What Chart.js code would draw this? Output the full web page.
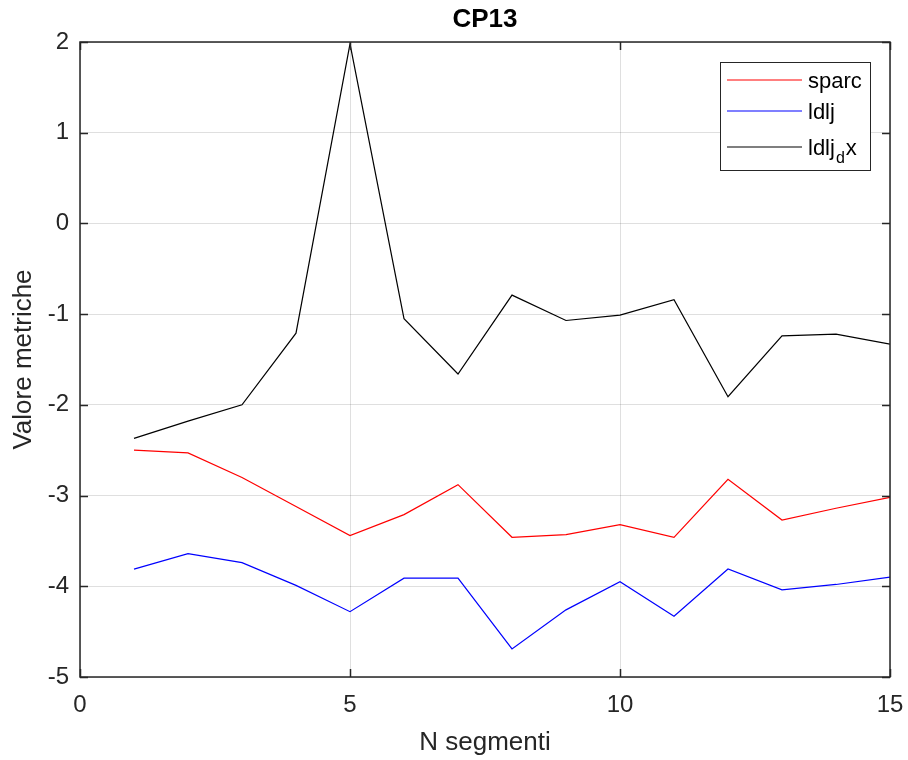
<!DOCTYPE html>
<html>
<head>
<meta charset="utf-8">
<script src="https://cdn.jsdelivr.net/npm/chart.js@4/dist/chart.umd.min.js"></script>
<style>
  html, body { margin: 0; padding: 0; background: #fff; }
  #wrap { width: 908px; height: 760px; }
</style>
</head>
<body>
<div id="wrap"><canvas id="c" width="908" height="760"></canvas></div>
<script>
// Number of segments (x) and the three smoothness metrics
const segments = [1, 2, 3, 4, 5, 6, 7, 8, 9, 10, 11, 12, 13, 14, 15];
const sparc    = [-2.50, -2.53, -2.80, -3.12, -3.44, -3.21, -2.88, -3.46, -3.43, -3.32, -3.46, -2.82, -3.27, -3.14, -3.02];
const ldlj     = [-3.81, -3.64, -3.74, -3.99, -4.28, -3.91, -3.91, -4.69, -4.26, -3.95, -4.33, -3.81, -4.04, -3.98, -3.90];
const ldljDx   = [-2.37, -2.18, -2.00, -1.21, 1.98, -1.05, -1.66, -0.79, -1.07, -1.01, -0.84, -1.91, -1.24, -1.22, -1.33];
const xTicks = [0, 5, 10, 15];
const yTicks = [-5, -4, -3, -2, -1, 0, 1, 2];

const FONT = '"Liberation Sans", Arial, Helvetica, sans-serif';
const AXIS = '#262626';

const toPoints = ys => ys.map((y, i) => ({ x: segments[i], y }));

// Axes box, inward ticks, title and legend in MATLAB style
const framePlugin = {
  id: 'frame',
  afterDatasetsDraw(chart) {
    const { ctx, chartArea: a, scales: { x, y } } = chart;
    ctx.save();
    ctx.strokeStyle = AXIS;
    ctx.lineWidth = 1.5;
    ctx.strokeRect(a.left, a.top, a.right - a.left, a.bottom - a.top);
    const tl = 8;
    ctx.beginPath();
    xTicks.forEach(v => {
      const px = Math.round(x.getPixelForValue(v)) + 0.5;
      ctx.moveTo(px, a.bottom); ctx.lineTo(px, a.bottom - tl);
      ctx.moveTo(px, a.top); ctx.lineTo(px, a.top + tl);
    });
    yTicks.forEach(v => {
      const py = Math.round(y.getPixelForValue(v)) + 0.5;
      ctx.moveTo(a.left, py); ctx.lineTo(a.left + tl, py);
      ctx.moveTo(a.right, py); ctx.lineTo(a.right - tl, py);
    });
    ctx.stroke();

    // Title
    ctx.fillStyle = '#000';
    ctx.font = 'bold 26px ' + FONT;
    ctx.textAlign = 'center';
    ctx.textBaseline = 'middle';
    ctx.fillText('CP13', (a.left + a.right) / 2, 20);

    // Legend
    const bx = 720, by = 62, bw = 150, bh = 108;
    ctx.fillStyle = '#fff';
    ctx.fillRect(bx, by, bw, bh);
    ctx.lineWidth = 1;
    ctx.strokeStyle = AXIS;
    ctx.strokeRect(bx + 0.5, by + 0.5, bw, bh);
    const rows = [
      { color: '#ff0000', y: 80, label: ['sparc'] },
      { color: '#0000ff', y: 111, label: ['ldlj'] },
      { color: '#000000', y: 147, label: ['ldlj', 'd', 'x'] }
    ];
    rows.forEach(r => {
      ctx.strokeStyle = r.color;
      ctx.lineWidth = 1.2;
      ctx.beginPath();
      ctx.moveTo(727, r.y); ctx.lineTo(802, r.y);
      ctx.stroke();
      ctx.fillStyle = '#000';
      ctx.textAlign = 'left';
      ctx.textBaseline = 'alphabetic';
      const base = r.y + 8;
      let tx = 808;
      ctx.font = '22px ' + FONT;
      ctx.fillText(r.label[0], tx, base);
      if (r.label.length > 1) {
        tx += ctx.measureText(r.label[0]).width + 1;
        ctx.font = '16px ' + FONT;
        ctx.fillText(r.label[1], tx, base + 8);
        tx += ctx.measureText(r.label[1]).width + 1;
        ctx.font = '22px ' + FONT;
        ctx.fillText(r.label[2], tx, base);
      }
    });
    ctx.restore();
  }
};

const ds = (label, data, color) => ({
  label, data: toPoints(data), borderColor: color, backgroundColor: color,
  borderWidth: 1.2, pointRadius: 0, tension: 0, fill: false
});

new Chart(document.getElementById('c'), {
  type: 'line',
  data: {
    datasets: [
      ds('sparc', sparc, '#ff0000'),
      ds('ldlj', ldlj, '#0000ff'),
      ds('ldlj_dx', ldljDx, '#000000')
    ]
  },
  options: {
    responsive: false,
    animation: false,
    layout: { padding: { top: 42, right: 18, left: 0, bottom: 0 } },
    plugins: { legend: { display: false }, title: { display: false }, tooltip: { enabled: false } },
    scales: {
      x: {
        type: 'linear', min: 0, max: 15,
        afterBuildTicks: s => { s.ticks = xTicks.map(v => ({ value: v })); },
        afterFit: s => { s.height = 83; s.paddingLeft = 0; s.paddingRight = 0; },
        grid: { color: 'rgba(38,38,38,0.15)', drawTicks: false },
        border: { display: false },
        ticks: { color: AXIS, font: { family: FONT, size: 24 }, padding: 14, maxRotation: 0 },
        title: { display: true, text: 'N segmenti', color: AXIS, font: { family: FONT, size: 26 }, padding: { top: 0, bottom: 2 } }
      },
      y: {
        type: 'linear', min: -5, max: 2,
        afterBuildTicks: s => { s.ticks = yTicks.map(v => ({ value: v })); },
        afterFit: s => { s.width = 80; s.paddingTop = 0; s.paddingBottom = 0; },
        grid: { color: 'rgba(38,38,38,0.15)', drawTicks: false },
        border: { display: false },
        ticks: { color: AXIS, font: { family: FONT, size: 24 }, padding: 11 },
        title: { display: true, text: 'Valore metriche', color: AXIS, font: { family: FONT, size: 26 }, padding: { top: 8, bottom: 0 } }
      }
    }
  },
  plugins: [framePlugin]
});
</script>
</body>
</html>
